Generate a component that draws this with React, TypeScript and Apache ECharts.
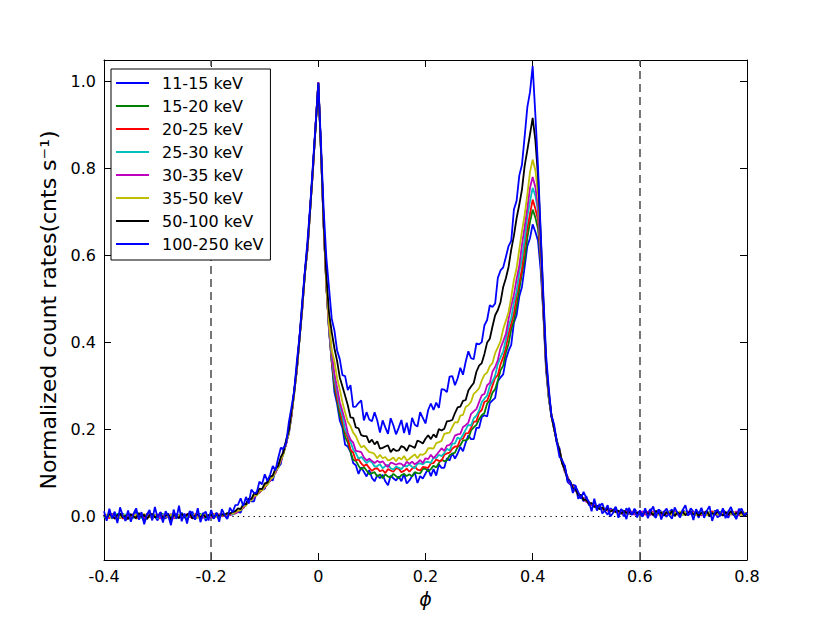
import React, { useEffect, useRef } from "react";
import * as echarts from "echarts";

// Phase bins: -0.4 .. 0.8, step 0.005 (241 bins)
const PHASE_START = -0.4;
const PHASE_STEP = 0.005;
const N_BINS = 241;

const X_TICK_MIN = -0.4;
const X_TICK_MAX = 0.8;
const Y_MIN = -0.1;
const Y_MAX = 1.05;
const Y_TICKS = [0, 0.2, 0.4, 0.6, 0.8, 1.0];
const DASHED_PHASES = [-0.2, 0.6];
const DOTTED_SPAN = [-0.2, 0.6];

const bandNames = [
  "11-15 keV",
  "15-20 keV",
  "20-25 keV",
  "25-30 keV",
  "30-35 keV",
  "35-50 keV",
  "50-100 keV",
  "100-250 keV",
];
const bandColors = ["#0000ff", "#008000", "#ff0000", "#00bfbf", "#bf00bf", "#bfbf00", "#000000", "#0000ff"];

const s11_15 = [
  0.004,-0.006,0.009,-0.002,0.011,-0.008,0.003,0.007,-0.010,0.001,
  0.006,-0.004,0.012,-0.007,0.002,-0.011,0.005,0.008,-0.003,0.000,
  -0.009,0.010,0.004,-0.005,0.007,-0.012,0.002,0.006,-0.004,0.009,
  -0.001,-0.008,0.005,0.011,-0.006,0.003,-0.002,0.008,-0.010,0.004,
  0.001,-0.005,0.009,-0.003,0.006,0.002,-0.004,0.009,0.004,0.013,
  0.010,0.009,0.026,0.028,0.041,0.035,0.035,0.058,0.059,0.061,
  0.064,0.083,0.085,0.083,0.107,0.113,0.121,0.156,0.171,0.190,
  0.231,0.290,0.336,0.414,0.476,0.563,0.616,0.713,0.797,0.902,
  0.996,0.843,0.668,0.533,0.427,0.356,0.286,0.259,0.221,0.204,
  0.165,0.161,0.149,0.123,0.118,0.098,0.113,0.103,0.092,0.107,
  0.089,0.081,0.095,0.088,0.096,0.081,0.072,0.094,0.088,0.083,
  0.092,0.081,0.098,0.076,0.083,0.093,0.101,0.077,0.093,0.087,
  0.099,0.110,0.093,0.109,0.094,0.120,0.112,0.112,0.134,0.129,
  0.146,0.133,0.145,0.160,0.150,0.170,0.187,0.178,0.178,0.204,
  0.204,0.229,0.233,0.230,0.261,0.267,0.273,0.311,0.320,0.327,
  0.361,0.381,0.395,0.446,0.463,0.506,0.528,0.574,0.622,0.640,
  0.672,0.655,0.634,0.566,0.464,0.336,0.274,0.229,0.206,0.169,
  0.157,0.123,0.117,0.080,0.074,0.073,0.071,0.041,0.048,0.035,
  0.047,0.026,0.027,0.032,0.014,0.024,0.030,0.012,0.004,0.019,
  0.014,0.022,0.005,0.015,0.000,0.019,0.008,0.004,0.018,0.009,
  0.006,0.000,0.014,0.009,0.017,0.004,-0.003,0.016,0.011,0.007,
  -0.001,0.011,0.016,0.005,0.009,-0.002,0.015,0.010,0.004,0.019,
  0.011,0.008,-0.003,0.017,0.005,0.013,0.000,0.006,0.014,-0.002,
  0.003,0.016,0.009,-0.003,0.013,0.006,-0.001,0.018,0.010,0.000,
  0.008,
];

const s15_20 = [
  0.002,-0.005,0.004,0.006,-0.002,0.001,-0.004,0.005,0.003,-0.003,
  0.004,0.001,-0.005,0.003,0.006,-0.002,0.000,0.005,-0.004,0.002,
  -0.001,0.004,0.006,-0.003,0.002,-0.005,0.005,0.001,0.003,-0.002,
  0.004,-0.001,0.002,0.005,-0.005,0.003,0.006,-0.002,0.001,0.004,
  0.000,0.003,0.005,-0.002,0.004,0.002,0.002,0.005,0.006,0.007,
  0.011,0.016,0.021,0.026,0.033,0.038,0.045,0.050,0.056,0.061,
  0.068,0.074,0.083,0.091,0.102,0.113,0.128,0.145,0.168,0.195,
  0.235,0.284,0.340,0.409,0.480,0.559,0.620,0.709,0.800,0.899,
  0.997,0.838,0.672,0.528,0.431,0.357,0.298,0.267,0.233,0.212,
  0.183,0.170,0.149,0.130,0.128,0.117,0.108,0.114,0.106,0.097,
  0.100,0.102,0.092,0.097,0.088,0.097,0.092,0.090,0.098,0.093,
  0.088,0.095,0.098,0.093,0.097,0.092,0.102,0.100,0.099,0.109,
  0.110,0.104,0.109,0.117,0.113,0.123,0.131,0.127,0.129,0.141,
  0.144,0.147,0.160,0.164,0.175,0.175,0.179,0.198,0.205,0.211,
  0.224,0.233,0.238,0.260,0.267,0.285,0.293,0.313,0.336,0.347,
  0.377,0.397,0.431,0.450,0.483,0.522,0.560,0.591,0.641,0.677,
  0.706,0.688,0.662,0.588,0.471,0.347,0.272,0.233,0.201,0.176,
  0.148,0.127,0.104,0.091,0.077,0.069,0.060,0.054,0.046,0.042,
  0.037,0.030,0.029,0.023,0.024,0.018,0.020,0.014,0.017,0.012,
  0.015,0.010,0.013,0.008,0.014,0.006,0.012,0.009,0.011,0.005,
  0.012,0.007,0.010,0.004,0.011,0.008,0.013,0.005,0.009,0.006,
  0.010,0.004,0.012,0.007,0.009,0.003,0.011,0.008,0.005,0.010,
  0.006,0.011,0.003,0.009,0.007,0.012,0.004,0.010,0.006,0.008,
  0.011,0.005,0.009,0.003,0.010,0.006,0.008,0.012,0.004,0.009,
  0.007,
];

const s20_25 = [
  0.005,0.001,-0.004,0.003,0.000,-0.003,0.006,-0.005,0.002,0.004,
  -0.002,0.006,-0.004,0.001,0.005,-0.003,0.003,-0.001,0.004,0.000,
  0.003,-0.005,0.001,0.006,-0.002,0.004,-0.004,0.002,0.000,0.005,
  -0.002,0.003,0.000,-0.004,0.006,0.001,-0.003,0.004,0.002,-0.001,
  0.003,0.006,0.000,0.002,0.003,0.001,0.004,0.003,0.007,0.008,
  0.012,0.017,0.020,0.028,0.032,0.040,0.044,0.052,0.055,0.063,
  0.067,0.076,0.082,0.093,0.101,0.115,0.127,0.147,0.167,0.197,
  0.234,0.286,0.339,0.411,0.479,0.561,0.619,0.711,0.799,0.901,
  0.999,0.842,0.669,0.529,0.432,0.358,0.312,0.273,0.247,0.218,
  0.196,0.180,0.154,0.147,0.129,0.132,0.122,0.116,0.120,0.112,
  0.105,0.110,0.111,0.104,0.107,0.100,0.109,0.106,0.103,0.111,
  0.110,0.102,0.105,0.110,0.103,0.110,0.115,0.108,0.106,0.114,
  0.113,0.112,0.122,0.123,0.131,0.128,0.128,0.142,0.145,0.147,
  0.156,0.161,0.161,0.178,0.179,0.191,0.192,0.204,0.218,0.219,
  0.239,0.245,0.264,0.266,0.282,0.301,0.319,0.325,0.350,0.366,
  0.388,0.420,0.443,0.467,0.506,0.537,0.569,0.621,0.662,0.696,
  0.729,0.708,0.682,0.598,0.472,0.348,0.277,0.232,0.202,0.174,
  0.151,0.124,0.106,0.090,0.077,0.069,0.059,0.054,0.046,0.042,
  0.035,0.033,0.027,0.026,0.021,0.021,0.017,0.017,0.014,0.015,
  0.012,0.014,0.007,0.013,0.008,0.011,0.005,0.012,0.006,0.010,
  0.008,0.011,0.004,0.010,0.006,0.012,0.005,0.009,0.003,0.010,
  0.007,0.010,0.005,0.012,0.004,0.009,0.006,0.011,0.003,0.008,
  0.009,0.004,0.011,0.006,0.010,0.003,0.008,0.012,0.005,0.007,
  0.003,0.009,0.006,0.012,0.004,0.010,0.007,0.002,0.011,0.006,
  0.006,
];

const s25_30 = [
  -0.003,0.004,0.002,-0.005,0.003,0.006,-0.002,0.001,0.005,-0.004,
  0.002,-0.003,0.006,0.000,-0.004,0.003,0.001,0.005,-0.002,0.004,
  -0.004,0.002,0.005,-0.002,0.004,0.000,0.003,-0.005,0.002,0.006,
  0.001,-0.002,0.004,0.006,-0.003,0.002,0.005,0.000,-0.004,0.003,
  0.005,0.000,0.003,-0.001,0.004,0.002,0.006,0.005,0.005,0.009,
  0.013,0.015,0.022,0.026,0.034,0.038,0.046,0.050,0.057,0.061,
  0.069,0.074,0.084,0.091,0.103,0.113,0.129,0.145,0.169,0.195,
  0.236,0.284,0.341,0.409,0.481,0.559,0.621,0.709,0.801,0.899,
  0.997,0.839,0.671,0.531,0.430,0.367,0.318,0.287,0.253,0.232,
  0.200,0.187,0.172,0.154,0.146,0.133,0.137,0.130,0.123,0.128,
  0.125,0.115,0.116,0.120,0.111,0.116,0.119,0.111,0.108,0.115,
  0.112,0.109,0.117,0.115,0.120,0.114,0.111,0.122,0.122,0.120,
  0.125,0.126,0.123,0.136,0.134,0.142,0.139,0.146,0.156,0.152,
  0.167,0.168,0.182,0.178,0.188,0.200,0.211,0.209,0.226,0.232,
  0.244,0.263,0.271,0.278,0.300,0.311,0.324,0.351,0.366,0.380,
  0.407,0.437,0.456,0.492,0.517,0.562,0.594,0.637,0.690,0.725,
  0.756,0.738,0.702,0.608,0.481,0.352,0.277,0.233,0.201,0.176,
  0.149,0.126,0.106,0.089,0.079,0.067,0.061,0.052,0.048,0.040,
  0.037,0.031,0.029,0.024,0.023,0.019,0.019,0.015,0.016,0.013,
  0.012,0.014,0.009,0.012,0.007,0.011,0.006,0.010,0.005,0.011,
  0.009,0.005,0.011,0.006,0.010,0.004,0.012,0.007,0.009,0.003,
  0.011,0.006,0.009,0.004,0.010,0.007,0.003,0.011,0.006,0.008,
  0.005,0.010,0.006,0.012,0.003,0.008,0.011,0.004,0.009,0.006,
  0.010,0.004,0.008,0.011,0.005,0.009,0.003,0.010,0.007,0.005,
  0.007,
];

const s30_35 = [
  0.004,-0.003,0.000,0.006,-0.005,0.002,0.005,-0.002,-0.004,0.003,
  -0.001,0.005,0.002,-0.005,0.004,-0.002,0.006,0.001,-0.003,0.002,
  0.005,-0.004,0.003,0.000,-0.002,0.006,-0.005,0.004,0.001,-0.003,
  0.002,0.006,-0.001,0.004,-0.004,0.003,0.000,-0.003,0.005,0.002,
  -0.002,0.004,0.001,0.006,0.000,0.004,0.005,0.003,0.008,0.007,
  0.011,0.018,0.020,0.029,0.032,0.041,0.044,0.053,0.055,0.064,
  0.067,0.077,0.082,0.094,0.101,0.116,0.127,0.148,0.167,0.198,
  0.234,0.287,0.339,0.412,0.479,0.561,0.618,0.712,0.798,0.902,
  0.998,0.841,0.668,0.532,0.433,0.377,0.328,0.297,0.263,0.242,
  0.220,0.192,0.177,0.170,0.151,0.150,0.148,0.136,0.129,0.133,
  0.128,0.123,0.128,0.124,0.127,0.119,0.114,0.124,0.122,0.119,
  0.122,0.121,0.116,0.126,0.121,0.126,0.120,0.124,0.130,0.123,
  0.134,0.132,0.142,0.134,0.141,0.149,0.157,0.151,0.163,0.165,
  0.172,0.186,0.189,0.190,0.206,0.210,0.216,0.236,0.242,0.247,
  0.263,0.279,0.282,0.302,0.307,0.333,0.344,0.360,0.387,0.403,
  0.420,0.454,0.484,0.510,0.546,0.577,0.624,0.666,0.708,0.756,
  0.781,0.758,0.712,0.618,0.483,0.353,0.282,0.233,0.202,0.174,
  0.150,0.127,0.103,0.092,0.076,0.070,0.058,0.055,0.045,0.043,
  0.034,0.033,0.026,0.027,0.020,0.022,0.016,0.018,0.013,0.016,
  0.011,0.015,0.008,0.013,0.006,0.012,0.007,0.011,0.004,0.010,
  0.007,0.012,0.005,0.010,0.003,0.011,0.006,0.009,0.004,0.012,
  0.006,0.009,0.003,0.011,0.007,0.004,0.010,0.005,0.012,0.006,
  0.010,0.005,0.008,0.002,0.011,0.006,0.004,0.009,0.003,0.010,
  0.004,0.011,0.007,0.003,0.009,0.005,0.012,0.002,0.008,0.006,
  0.008,
];

const s35_50 = [
  -0.002,0.005,0.001,-0.004,0.006,0.000,-0.003,0.004,0.002,-0.005,
  0.003,-0.001,0.005,-0.004,0.002,0.006,-0.002,0.001,-0.005,0.004,
  0.000,0.006,-0.003,0.003,-0.001,0.005,0.002,-0.004,0.004,0.001,
  -0.003,0.002,0.005,-0.002,0.004,-0.004,0.003,0.001,0.006,-0.001,
  0.002,0.005,-0.002,0.004,0.002,0.005,0.004,0.007,0.007,0.010,
  0.014,0.014,0.024,0.025,0.036,0.037,0.048,0.049,0.059,0.060,
  0.070,0.073,0.086,0.090,0.105,0.112,0.131,0.144,0.171,0.194,
  0.237,0.283,0.343,0.408,0.483,0.558,0.623,0.708,0.803,0.898,
  0.996,0.838,0.672,0.533,0.443,0.383,0.357,0.318,0.293,0.263,
  0.239,0.218,0.208,0.193,0.185,0.170,0.159,0.163,0.155,0.148,
  0.147,0.143,0.134,0.142,0.134,0.137,0.129,0.131,0.136,0.127,
  0.136,0.131,0.139,0.129,0.133,0.138,0.143,0.134,0.143,0.142,
  0.146,0.157,0.157,0.156,0.169,0.171,0.174,0.190,0.192,0.193,
  0.206,0.217,0.216,0.232,0.234,0.252,0.256,0.264,0.282,0.288,
  0.295,0.313,0.326,0.331,0.346,0.353,0.376,0.389,0.403,0.431,
  0.450,0.470,0.504,0.544,0.571,0.614,0.656,0.693,0.740,0.792,
  0.821,0.797,0.742,0.638,0.492,0.358,0.282,0.233,0.202,0.173,
  0.152,0.123,0.107,0.088,0.080,0.066,0.062,0.051,0.049,0.039,
  0.038,0.030,0.030,0.023,0.024,0.018,0.020,0.014,0.017,0.012,
  0.014,0.009,0.013,0.007,0.012,0.006,0.011,0.008,0.010,0.005,
  0.010,0.006,0.011,0.004,0.009,0.007,0.012,0.003,0.010,0.006,
  0.008,0.011,0.004,0.009,0.006,0.012,0.003,0.010,0.005,0.009,
  0.007,0.003,0.011,0.005,0.009,0.002,0.010,0.006,0.012,0.004,
  0.009,0.005,0.002,0.010,0.006,0.011,0.004,0.008,0.003,0.009,
  0.005,
];

const s50_100 = [
  0.003,-0.004,0.006,0.001,-0.005,0.004,0.007,-0.002,0.002,-0.006,
  0.005,0.000,-0.003,0.008,-0.001,0.004,-0.006,0.003,0.006,-0.002,
  0.001,0.007,-0.004,0.002,0.005,-0.007,0.004,0.000,-0.003,0.006,
  -0.001,0.004,0.008,-0.005,0.002,0.006,-0.003,0.005,-0.002,0.003,
  0.004,-0.003,0.006,0.001,0.005,0.003,0.008,0.006,0.011,0.012,
  0.019,0.017,0.029,0.028,0.041,0.040,0.053,0.051,0.064,0.063,
  0.076,0.078,0.092,0.094,0.111,0.116,0.137,0.148,0.177,0.198,
  0.243,0.288,0.348,0.412,0.488,0.562,0.628,0.712,0.806,0.898,
  0.996,0.843,0.681,0.553,0.468,0.424,0.387,0.358,0.320,0.299,
  0.278,0.256,0.228,0.227,0.205,0.203,0.187,0.185,0.185,0.170,
  0.177,0.166,0.173,0.156,0.158,0.161,0.164,0.148,0.156,0.151,
  0.152,0.162,0.159,0.151,0.164,0.161,0.158,0.175,0.172,0.168,
  0.179,0.187,0.178,0.189,0.182,0.201,0.198,0.202,0.219,0.220,
  0.222,0.238,0.251,0.253,0.266,0.268,0.290,0.299,0.307,0.333,
  0.347,0.353,0.374,0.400,0.409,0.437,0.463,0.475,0.493,0.528,
  0.548,0.574,0.614,0.646,0.686,0.717,0.752,0.806,0.842,0.879,
  0.917,0.866,0.783,0.646,0.493,0.357,0.288,0.232,0.203,0.172,
  0.153,0.122,0.108,0.087,0.081,0.065,0.063,0.050,0.050,0.038,
  0.039,0.029,0.031,0.022,0.025,0.017,0.021,0.013,0.018,0.011,
  0.015,0.010,0.014,0.006,0.013,0.008,0.012,0.005,0.011,0.007,
  0.011,0.004,0.012,0.006,0.010,0.003,0.013,0.007,0.009,0.002,
  0.010,0.005,0.012,0.001,0.009,0.006,0.011,0.003,0.008,0.012,
  0.004,0.010,0.002,0.009,0.006,0.013,0.001,0.008,0.005,0.011,
  0.007,0.002,0.010,0.004,0.012,0.003,0.008,0.006,0.011,0.001,
  0.006,
];

const s100_250 = [
  0.012,-0.010,0.018,-0.004,0.008,-0.015,0.021,0.002,-0.008,0.014,
  -0.012,0.006,0.019,-0.006,0.010,-0.018,0.004,0.015,-0.009,0.022,
  -0.003,0.009,-0.014,0.012,0.001,-0.020,0.016,-0.005,0.025,-0.011,
  0.007,-0.016,0.013,0.003,-0.007,0.019,-0.013,0.006,0.011,-0.009,
  0.015,-0.004,0.008,-0.012,0.017,0.004,-0.006,0.020,0.010,0.026,
  0.027,0.042,0.024,0.045,0.030,0.062,0.054,0.055,0.080,0.074,
  0.097,0.082,0.096,0.116,0.106,0.134,0.158,0.156,0.169,0.217,
  0.252,0.290,0.358,0.415,0.495,0.566,0.637,0.718,0.812,0.903,
  0.998,0.855,0.705,0.595,0.525,0.455,0.428,0.382,0.362,0.325,
  0.323,0.291,0.302,0.252,0.253,0.261,0.267,0.221,0.240,0.223,
  0.219,0.240,0.221,0.193,0.221,0.205,0.190,0.226,0.210,0.189,
  0.204,0.222,0.192,0.216,0.188,0.227,0.211,0.207,0.240,0.227,
  0.214,0.245,0.260,0.245,0.262,0.250,0.293,0.292,0.286,0.322,
  0.323,0.302,0.318,0.342,0.326,0.356,0.380,0.364,0.362,0.398,
  0.396,0.401,0.440,0.452,0.486,0.482,0.490,0.549,0.566,0.573,
  0.597,0.622,0.634,0.706,0.726,0.784,0.809,0.873,0.941,0.976,
  1.036,0.925,0.804,0.655,0.508,0.372,0.296,0.233,0.212,0.172,
  0.137,0.130,0.116,0.085,0.080,0.054,0.070,0.056,0.041,0.057,
  0.043,0.034,0.012,0.041,0.018,0.029,0.007,0.014,0.026,0.000,
  0.008,0.022,-0.003,0.017,0.011,-0.006,0.020,0.004,0.015,-0.002,
  0.014,0.001,0.019,-0.004,0.012,0.023,0.000,0.016,-0.007,0.011,
  0.018,0.003,-0.005,0.021,0.009,-0.002,0.015,0.026,0.002,0.012,
  -0.008,0.017,0.006,0.020,-0.003,0.013,0.024,-0.010,0.009,0.016,
  0.001,0.019,-0.004,0.011,0.022,0.005,-0.006,0.014,0.018,0.003,
  0.009,
];

const bandValues = [s11_15, s15_20, s20_25, s25_30, s30_35, s35_50, s50_100, s100_250];

const phases = Array.from({ length: N_BINS }, (_, i) => +(PHASE_START + i * PHASE_STEP).toFixed(3));

const FONT = "DejaVu Sans";

export default function App() {
  const ref = useRef<HTMLDivElement>(null);

  useEffect(() => {
    if (!ref.current) return;
    const chart = echarts.init(ref.current, undefined, { renderer: "svg" });

    const axisLine = { show: true, onZero: false, lineStyle: { color: "#000", width: 1 } };
    const tick = { show: true, inside: true, length: 7, lineStyle: { color: "#000", width: 1 } };

    const series: any[] = bandValues.map((vals, k) => ({
      name: bandNames[k],
      type: "line",
      xAxisIndex: 0,
      yAxisIndex: 0,
      showSymbol: false,
      symbol: "none",
      color: bandColors[k],
      lineStyle: { color: bandColors[k], width: 1.8 },
      data: vals.map((v, i) => [phases[i], v]),
      silent: true,
    }));

    series.unshift({
      name: "refs",
      type: "line",
      data: [],
      silent: true,
      z: 1,
      markLine: {
        silent: true,
        symbol: "none",
        z: 1,
        label: { show: false },
        data: [
          ...DASHED_PHASES.map((p) => ({
            xAxis: p,
            lineStyle: { color: "#555", width: 1.6, type: [8, 5] },
          })),
          [
            { coord: [DOTTED_SPAN[0], 0], lineStyle: { color: "#000", width: 1.2, type: [1.3, 4] } },
            { coord: [DOTTED_SPAN[1], 0] },
          ],
        ],
      },
    });

    const option: any = {
      animation: false,
      backgroundColor: "#ffffff",
      textStyle: { fontFamily: FONT },
      grid: { left: 104, right: 83, top: 60, bottom: 63, containLabel: false },
      legend: {
        data: bandNames.map((n) => ({ name: n })),
        orient: "vertical",
        left: 111,
        top: 69,
        z: 20,
        backgroundColor: "#fff",
        borderColor: "#000",
        borderWidth: 1,
        borderRadius: 0,
        padding: [6, 7, 8, 5],
        itemWidth: 33,
        itemHeight: 2,
        itemGap: 7,
        icon: "rect",
        selectedMode: false,
        textStyle: { fontFamily: FONT, fontSize: 16, color: "#000", lineHeight: 16, padding: [0, 0, 0, 8] },
      },
      xAxis: [
        {
          type: "value",
          position: "bottom",
          min: X_TICK_MIN,
          max: X_TICK_MAX,
          interval: 0.2,
          name: "ϕ",
          nameLocation: "middle",
          nameGap: 29,
          nameTextStyle: { fontFamily: FONT, fontSize: 19, fontStyle: "italic", color: "#000" },
          axisLine,
          axisTick: tick,
          axisLabel: {
            fontFamily: FONT,
            fontSize: 16,
            color: "#000",
            margin: 8,
            formatter: (v: number) => (Math.abs(v) < 1e-9 ? "0" : v.toFixed(1)),
          },
          splitLine: { show: false },
        },
        {
          type: "value",
          position: "top",
          min: X_TICK_MIN,
          max: X_TICK_MAX,
          interval: 0.2,
          axisLine,
          axisTick: tick,
          axisLabel: { show: false },
          splitLine: { show: false },
        },
      ],
      yAxis: [
        {
          type: "value",
          position: "left",
          min: Y_MIN,
          max: Y_MAX,
          name: "Normalized count rates(cnts s⁻¹)",
          nameLocation: "middle",
          nameGap: 40,
          nameTextStyle: { fontFamily: FONT, fontSize: 22, color: "#000" },
          axisLine,
          axisTick: { ...tick, customValues: Y_TICKS },
          axisLabel: {
            fontFamily: FONT,
            fontSize: 16,
            color: "#000",
            margin: 8,
            customValues: Y_TICKS,
            formatter: (v: number) => v.toFixed(1),
          },
          splitLine: { show: false },
        },
        {
          type: "value",
          position: "right",
          min: Y_MIN,
          max: Y_MAX,
          axisLine,
          axisTick: { ...tick, customValues: Y_TICKS },
          axisLabel: { show: false, customValues: Y_TICKS },
          splitLine: { show: false },
        },
      ],
      series,
    };

    chart.setOption(option);
    return () => chart.dispose();
  }, []);

  return (
    <div
      ref={ref}
      style={{ position: "fixed", left: 0, top: 0, width: 830, height: 623, background: "#fff" }}
    />
  );
}
